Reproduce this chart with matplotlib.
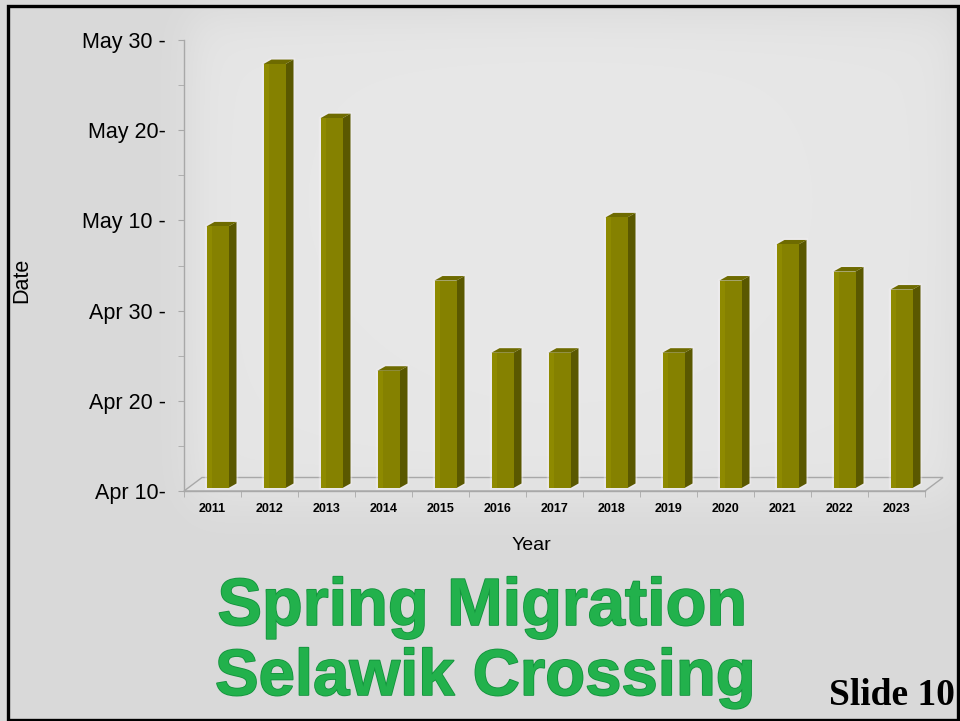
import numpy as np
import pandas as pd
import matplotlib
matplotlib.use("Agg")
import matplotlib.pyplot as plt
from matplotlib.patches import Polygon, Rectangle
import matplotlib.patheffects as pe

# Spring migration: date the herd crossed the Selawik, by year
years = ["2011", "2012", "2013", "2014", "2015", "2016", "2017",
         "2018", "2019", "2020", "2021", "2022", "2023"]
crossing_dates = ["May 9", "May 27", "May 21", "Apr 23", "May 3", "Apr 25", "Apr 25",
                  "May 10", "Apr 25", "May 3", "May 7", "May 4", "May 2"]
y_tick_labels = ["Apr 10-", "Apr 20 -", "Apr 30 -", "May 10 -", "May 20-", "May 30 -"]
axis_start = "Apr 10"

start = pd.to_datetime("2000 " + axis_start, format="%Y %b %d")
days = [(pd.to_datetime("2000 " + d, format="%Y %b %d") - start).days for d in crossing_dates]

W, H = 960, 721
fig = plt.figure(figsize=(W / 100, H / 100), dpi=100)
fig.patch.set_facecolor("#d9d9d9")

def fx(px):
    return px / W

def fy(py):
    return 1 - py / H

# soft lighter panel behind the plotting area
bg = fig.add_axes([0, 0, 1, 1], zorder=-10)
xx, yy = np.meshgrid(np.arange(W), np.arange(H))
def soft(v, lo, hi, s):
    return 1 / (1 + np.exp(-(v - lo) / s)) * 1 / (1 + np.exp((v - hi) / s))
g = soft(xx, 190, 955, 12) * soft(yy, 15, 500, 14)
g = g * (0.75 + 0.25 * np.exp(-((xx - 560) ** 2) / (2 * 320 ** 2) - ((yy - 200) ** 2) / (2 * 260 ** 2)))
val = (217 + 15 * g) / 255.0
bg.imshow(np.dstack([val, val, val]), extent=[0, W, H, 0], aspect="auto")
bg.set_xlim(0, W)
bg.set_ylim(H, 0)
bg.axis("off")

# main axes: x in category units, y in days after Apr 10
x0, x1, y_top, y_base = 184, 925, 40, 491
ax = fig.add_axes([fx(x0), fy(y_base), (x1 - x0) / W, (y_base - y_top) / H])
ax.set_facecolor("none")
n = len(years)
ax.set_xlim(0, n)
ax.set_ylim(0, 50)

ppx = (x1 - x0) / n          # pixels per category
ppy = (y_base - y_top) / 50  # pixels per day

# floor of the 3-D chart
fdx, fdy = 18 / ppx, 13.5 / ppy
floor = Polygon([(0, 0), (n, 0), (n + fdx, fdy), (fdx, fdy)], closed=True,
                facecolor="#e2e2e2", edgecolor="#a8a8a8", lw=1.0, clip_on=False, zorder=1)
ax.add_patch(floor)

# bars
bw = 22 / ppx
sx, sy = 5 / ppx, 3 / ppy
bx, by = 8 / ppx, 4.5 / ppy
front_c, side_c, top_c = "#858100", "#5a5800", "#6e6b00"
for i, v in enumerate(days):
    L = i + 0.5 - bw / 2 + sx
    R = L + bw
    B = sy
    T = sy + v
    halo = Polygon([(L, B), (R, B), (R + bx, B + by), (R + bx, T + by), (L + bx, T + by), (L, T)],
                   closed=True, facecolor="none", edgecolor="#f4f0f4", lw=2.5, alpha=0.45,
                   clip_on=False, zorder=2)
    ax.add_patch(halo)
    ax.add_patch(Polygon([(R, B), (R + bx, B + by), (R + bx, T + by), (R, T)], closed=True,
                         facecolor=side_c, edgecolor="none", clip_on=False, zorder=3))
    ax.add_patch(Polygon([(L, T), (R, T), (R + bx, T + by), (L + bx, T + by)], closed=True,
                         facecolor=top_c, edgecolor="none", clip_on=False, zorder=3))
    ax.add_patch(Rectangle((L, B), bw, v, facecolor=front_c, edgecolor="none",
                           clip_on=False, zorder=4))
    ax.add_patch(Rectangle((L, B), bw * 0.25, v, facecolor="#8e8a00", edgecolor="none",
                           clip_on=False, zorder=4))

# axes styling
for s in ["top", "right"]:
    ax.spines[s].set_visible(False)
for s in ["left", "bottom"]:
    ax.spines[s].set_color("#a8a8a8")
    ax.spines[s].set_linewidth(1.0)

ax.set_yticks(np.arange(0, 51, 10))
ax.set_yticklabels(y_tick_labels, fontfamily="Liberation Sans", fontsize=15.5)
ax.set_yticks(np.arange(5, 50, 10), minor=True)
ax.tick_params(axis="y", which="both", direction="out", length=4, color="#a8a8a8", pad=9)

ax.set_xticks(np.arange(n) + 0.5)
ax.set_xticklabels(years, fontfamily="Liberation Sans", fontsize=9, fontweight="bold")
ax.set_xticks(np.arange(0, n + 1), minor=True)
ax.tick_params(axis="x", which="major", length=0, pad=9)
ax.tick_params(axis="x", which="minor", direction="out", length=4, color="#a8a8a8")

fig.text(fx(531), fy(545), "Year", ha="center", va="center",
         fontfamily="Liberation Sans", fontsize=14)
fig.text(fx(22), fy(280), "Date", ha="center", va="center", rotation=90,
         fontfamily="Liberation Sans", fontsize=15.5)

# title
title_fx = [pe.withStroke(linewidth=1.2, foreground="#12923c")]
fig.text(fx(482), fy(625), "Spring Migration", ha="center", va="baseline",
         fontfamily="Liberation Sans", fontweight="bold", fontsize=48,
         color="#22b14c", path_effects=title_fx)
fig.text(fx(485), fy(695), "Selawik Crossing", ha="center", va="baseline",
         fontfamily="Liberation Sans", fontweight="bold", fontsize=47,
         color="#22b14c", path_effects=title_fx)

fig.text(fx(955), fy(705), "Slide 10", ha="right", va="baseline",
         fontfamily="Liberation Serif", fontweight="bold", fontsize=27, color="black")

# slide frame
frame = Rectangle((fx(8), fy(720)), fx(950), 714 / H, transform=fig.transFigure,
                  facecolor="none", edgecolor="black", lw=2.4, zorder=20)
fig.patches.append(frame)

fig.savefig("out.png", dpi=100, facecolor=fig.get_facecolor())
